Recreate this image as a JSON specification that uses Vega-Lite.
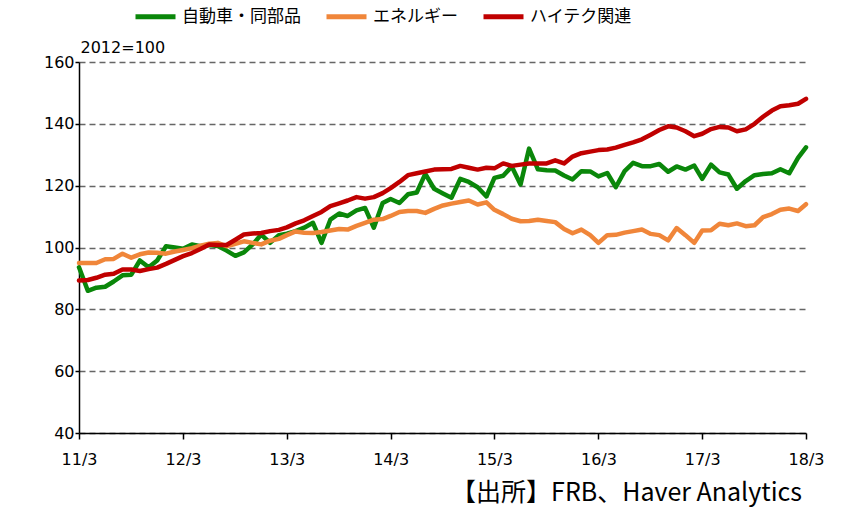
{
  "$schema": "https://vega.github.io/schema/vega-lite/v6.json",
  "width": 727,
  "height": 371,
  "autosize": "none",
  "padding": {"left": 79, "top": 62, "right": 36, "bottom": 78},
  "config": {
    "view": {"stroke": null},
    "font": "DejaVu Sans",
    "axis": {"domainColor": "#000000", "domainWidth": 1.5, "tickColor": "#000000", "tickWidth": 1.5, "labelColor": "#000000", "labelFont": "DejaVu Sans", "labelFontSize": 16}
  },
  "title": {
    "text": "【出所】FRB、Haver Analytics",
    "orient": "bottom",
    "anchor": "end",
    "font": "Noto Sans CJK JP",
    "fontSize": 25,
    "fontWeight": "normal",
    "color": "#000000",
    "offset": 14,
    "dx": -22
  },
  "data": {
    "format": {"parse": {"date": "date:'%Y-%m'"}},
    "values": [
      {"date": "2011-03", "自動車・同部品": 93.6, "エネルギー": 95.0, "ハイテク関連": 89.3},
      {"date": "2011-04", "自動車・同部品": 86.0, "エネルギー": 95.0, "ハイテク関連": 89.5},
      {"date": "2011-05", "自動車・同部品": 87.0, "エネルギー": 95.0, "ハイテク関連": 90.2},
      {"date": "2011-06", "自動車・同部品": 87.3, "エネルギー": 96.2, "ハイテク関連": 91.2},
      {"date": "2011-07", "自動車・同部品": 89.0, "エネルギー": 96.3, "ハイテク関連": 91.5},
      {"date": "2011-08", "自動車・同部品": 91.0, "エネルギー": 98.0, "ハイテク関連": 92.9},
      {"date": "2011-09", "自動車・同部品": 91.2, "エネルギー": 96.7, "ハイテク関連": 92.9},
      {"date": "2011-10", "自動車・同部品": 95.8, "エネルギー": 97.8, "ハイテク関連": 92.4},
      {"date": "2011-11", "自動車・同部品": 93.6, "エネルギー": 98.4, "ハイテク関連": 93.0},
      {"date": "2011-12", "自動車・同部品": 95.8, "エネルギー": 98.3, "ハイテク関連": 93.5},
      {"date": "2012-01", "自動車・同部品": 100.4, "エネルギー": 98.0, "ハイテク関連": 94.7},
      {"date": "2012-02", "自動車・同部品": 100.0, "エネルギー": 98.7, "ハイテク関連": 96.0},
      {"date": "2012-03", "自動車・同部品": 99.6, "エネルギー": 99.2, "ハイテク関連": 97.2},
      {"date": "2012-04", "自動車・同部品": 101.0, "エネルギー": 99.8, "ハイテク関連": 98.2},
      {"date": "2012-05", "自動車・同部品": 100.4, "エネルギー": 100.6, "ハイテク関連": 99.5},
      {"date": "2012-06", "自動車・同部品": 100.8, "エネルギー": 101.2, "ハイテク関連": 101.0},
      {"date": "2012-07", "自動車・同部品": 100.5, "エネルギー": 101.5, "ハイテク関連": 100.8},
      {"date": "2012-08", "自動車・同部品": 99.0, "エネルギー": 100.4, "ハイテク関連": 100.8},
      {"date": "2012-09", "自動車・同部品": 97.3, "エネルギー": 101.2, "ハイテク関連": 102.5},
      {"date": "2012-10", "自動車・同部品": 98.4, "エネルギー": 102.0, "ハイテク関連": 104.2},
      {"date": "2012-11", "自動車・同部品": 101.0, "エネルギー": 101.5, "ハイテク関連": 104.5},
      {"date": "2012-12", "自動車・同部品": 104.2, "エネルギー": 101.0, "ハイテク関連": 104.7},
      {"date": "2013-01", "自動車・同部品": 101.5, "エネルギー": 102.2, "ハイテク関連": 105.3},
      {"date": "2013-02", "自動車・同部品": 104.0, "エネルギー": 102.8, "ハイテク関連": 105.7},
      {"date": "2013-03", "自動車・同部品": 104.5, "エネルギー": 104.0, "ハイテク関連": 106.5},
      {"date": "2013-04", "自動車・同部品": 105.3, "エネルギー": 105.2, "ハイテク関連": 107.8},
      {"date": "2013-05", "自動車・同部品": 106.4, "エネルギー": 104.8, "ハイテク関連": 108.8},
      {"date": "2013-06", "自動車・同部品": 108.0, "エネルギー": 104.7, "ハイテク関連": 110.2},
      {"date": "2013-07", "自動車・同部品": 101.5, "エネルギー": 105.0, "ハイテク関連": 111.5},
      {"date": "2013-08", "自動車・同部品": 109.0, "エネルギー": 105.5, "ハイテク関連": 113.4},
      {"date": "2013-09", "自動車・同部品": 111.0, "エネルギー": 106.0, "ハイテク関連": 114.3},
      {"date": "2013-10", "自動車・同部品": 110.2, "エネルギー": 105.8, "ハイテク関連": 115.2},
      {"date": "2013-11", "自動車・同部品": 112.0, "エネルギー": 107.0, "ハイテク関連": 116.3},
      {"date": "2013-12", "自動車・同部品": 112.8, "エネルギー": 108.0, "ハイテク関連": 115.8},
      {"date": "2014-01", "自動車・同部品": 106.4, "エネルギー": 109.0, "ハイテク関連": 116.3},
      {"date": "2014-02", "自動車・同部品": 114.4, "エネルギー": 109.2, "ハイテク関連": 117.6},
      {"date": "2014-03", "自動車・同部品": 115.7, "エネルギー": 110.2, "ハイテク関連": 119.2},
      {"date": "2014-04", "自動車・同部品": 114.4, "エネルギー": 111.5, "ハイテク関連": 121.2},
      {"date": "2014-05", "自動車・同部品": 117.2, "エネルギー": 111.8, "ハイテク関連": 123.4},
      {"date": "2014-06", "自動車・同部品": 117.8, "エネルギー": 111.8, "ハイテク関連": 124.0},
      {"date": "2014-07", "自動車・同部品": 123.8, "エネルギー": 111.2, "ハイテク関連": 124.6},
      {"date": "2014-08", "自動車・同部品": 119.0, "エネルギー": 112.5, "ハイテク関連": 125.2},
      {"date": "2014-09", "自動車・同部品": 117.5, "エネルギー": 113.6, "ハイテク関連": 125.3},
      {"date": "2014-10", "自動車・同部品": 116.1, "エネルギー": 114.2, "ハイテク関連": 125.4},
      {"date": "2014-11", "自動車・同部品": 122.2, "エネルギー": 114.7, "ハイテク関連": 126.4},
      {"date": "2014-12", "自動車・同部品": 121.2, "エネルギー": 115.2, "ハイテク関連": 125.8},
      {"date": "2015-01", "自動車・同部品": 119.5, "エネルギー": 113.9, "ハイテク関連": 125.2},
      {"date": "2015-02", "自動車・同部品": 116.5, "エネルギー": 114.6, "ハイテク関連": 125.8},
      {"date": "2015-03", "自動車・同部品": 122.5, "エネルギー": 112.2, "ハイテク関連": 125.6},
      {"date": "2015-04", "自動車・同部品": 123.2, "エネルギー": 110.8, "ハイテク関連": 127.2},
      {"date": "2015-05", "自動車・同部品": 126.2, "エネルギー": 109.3, "ハイテク関連": 126.4},
      {"date": "2015-06", "自動車・同部品": 120.4, "エネルギー": 108.5, "ハイテク関連": 126.8},
      {"date": "2015-07", "自動車・同部品": 132.0, "エネルギー": 108.6, "ハイテク関連": 127.2},
      {"date": "2015-08", "自動車・同部品": 125.3, "エネルギー": 109.0, "ハイテク関連": 127.2},
      {"date": "2015-09", "自動車・同部品": 125.0, "エネルギー": 108.6, "ハイテク関連": 127.2},
      {"date": "2015-10", "自動車・同部品": 124.9, "エネルギー": 108.2, "ハイテク関連": 128.2},
      {"date": "2015-11", "自動車・同部品": 123.3, "エネルギー": 106.0, "ハイテク関連": 127.2},
      {"date": "2015-12", "自動車・同部品": 122.0, "エネルギー": 104.6, "ハイテク関連": 129.4},
      {"date": "2016-01", "自動車・同部品": 124.7, "エネルギー": 105.8, "ハイテク関連": 130.5},
      {"date": "2016-02", "自動車・同部品": 124.6, "エネルギー": 104.0, "ハイテク関連": 131.0},
      {"date": "2016-03", "自動車・同部品": 123.0, "エネルギー": 101.5, "ハイテク関連": 131.5},
      {"date": "2016-04", "自動車・同部品": 124.1, "エネルギー": 104.0, "ハイテク関連": 131.7},
      {"date": "2016-05", "自動車・同部品": 119.5, "エネルギー": 104.1, "ハイテク関連": 132.3},
      {"date": "2016-06", "自動車・同部品": 124.7, "エネルギー": 104.8, "ハイテク関連": 133.2},
      {"date": "2016-07", "自動車・同部品": 127.4, "エネルギー": 105.3, "ハイテク関連": 134.0},
      {"date": "2016-08", "自動車・同部品": 126.3, "エネルギー": 105.8, "ハイテク関連": 135.0},
      {"date": "2016-09", "自動車・同部品": 126.3, "エネルギー": 104.4, "ハイテク関連": 136.5},
      {"date": "2016-10", "自動車・同部品": 127.0, "エネルギー": 104.0, "ハイテク関連": 138.0},
      {"date": "2016-11", "自動車・同部品": 124.5, "エネルギー": 102.3, "ハイテク関連": 139.2},
      {"date": "2016-12", "自動車・同部品": 126.2, "エネルギー": 106.3, "ハイテク関連": 138.8},
      {"date": "2017-01", "自動車・同部品": 125.2, "エネルギー": 104.0, "ハイテク関連": 137.6},
      {"date": "2017-02", "自動車・同部品": 126.5, "エネルギー": 101.5, "ハイテク関連": 136.0},
      {"date": "2017-03", "自動車・同部品": 122.2, "エネルギー": 105.5, "ハイテク関連": 136.8},
      {"date": "2017-04", "自動車・同部品": 126.8, "エネルギー": 105.6, "ハイテク関連": 138.3},
      {"date": "2017-05", "自動車・同部品": 124.3, "エネルギー": 107.7, "ハイテク関連": 139.0},
      {"date": "2017-06", "自動車・同部品": 123.6, "エネルギー": 107.2, "ハイテク関連": 138.8},
      {"date": "2017-07", "自動車・同部品": 119.0, "エネルギー": 107.8, "ハイテク関連": 137.6},
      {"date": "2017-08", "自動車・同部品": 121.5, "エネルギー": 106.9, "ハイテク関連": 138.2},
      {"date": "2017-09", "自動車・同部品": 123.4, "エネルギー": 107.2, "ハイテク関連": 140.0},
      {"date": "2017-10", "自動車・同部品": 123.8, "エネルギー": 109.8, "ハイテク関連": 142.3},
      {"date": "2017-11", "自動車・同部品": 124.0, "エネルギー": 110.8, "ハイテク関連": 144.3},
      {"date": "2017-12", "自動車・同部品": 125.3, "エネルギー": 112.2, "ハイテク関連": 145.7},
      {"date": "2018-01", "自動車・同部品": 124.0, "エネルギー": 112.6, "ハイテク関連": 146.0},
      {"date": "2018-02", "自動車・同部品": 129.0, "エネルギー": 111.8, "ハイテク関連": 146.5},
      {"date": "2018-03", "自動車・同部品": 132.4, "エネルギー": 114.0, "ハイテク関連": 148.1}
    ]
  },
  "transform": [
    {"fold": ["自動車・同部品", "エネルギー", "ハイテク関連"], "as": ["series", "value"]}
  ],
  "mark": {"type": "line", "strokeWidth": 4.5, "strokeJoin": "round", "strokeCap": "round"},
  "encoding": {
    "x": {
      "field": "date",
      "type": "temporal",
      "scale": {"domain": [{"year": 2011, "month": 3, "date": 1}, {"year": 2018, "month": 3, "date": 1}], "nice": false},
      "axis": {
        "title": null,
        "format": "%y/%-m",
        "values": [
          {"year": 2011, "month": 3, "date": 1},
          {"year": 2012, "month": 3, "date": 1},
          {"year": 2013, "month": 3, "date": 1},
          {"year": 2014, "month": 3, "date": 1},
          {"year": 2015, "month": 3, "date": 1},
          {"year": 2016, "month": 3, "date": 1},
          {"year": 2017, "month": 3, "date": 1},
          {"year": 2018, "month": 3, "date": 1}
        ],
        "grid": false,
        "tickSize": 6,
        "labelPadding": 12,
        "labelFlush": false,
        "labelOverlap": false
      }
    },
    "y": {
      "field": "value",
      "type": "quantitative",
      "scale": {"domain": [40, 160], "nice": false, "zero": false},
      "axis": {
        "title": "2012=100",
        "titleAngle": 0,
        "titleAlign": "left",
        "titleBaseline": "alphabetic",
        "titleX": 1,
        "titleY": -10,
        "titleFont": "DejaVu Sans",
        "titleFontSize": 16,
        "titleFontWeight": "normal",
        "titleColor": "#000000",
        "values": [40, 60, 80, 100, 120, 140, 160],
        "grid": true,
        "gridColor": "#666666",
        "gridWidth": 1.5,
        "gridDash": [6, 4],
        "tickSize": 4,
        "labelPadding": 1
      }
    },
    "color": {
      "field": "series",
      "type": "nominal",
      "sort": ["自動車・同部品", "エネルギー", "ハイテク関連"],
      "scale": {"domain": ["自動車・同部品", "エネルギー", "ハイテク関連"], "range": ["#0a870a", "#f0863a", "#c00000"]},
      "legend": {
        "title": null,
        "orient": "none",
        "direction": "horizontal",
        "legendX": 54,
        "legendY": -68,
        "symbolType": "stroke",
        "symbolSize": 1600,
        "symbolStrokeWidth": 5,
        "labelFont": "Noto Sans CJK JP",
        "labelFontSize": 17,
        "labelColor": "#000000",
        "labelOffset": 4,
        "columnPadding": 15,
        "labelLimit": 300
      }
    },
    "order": {"field": "series", "sort": "ascending"}
  }
}
